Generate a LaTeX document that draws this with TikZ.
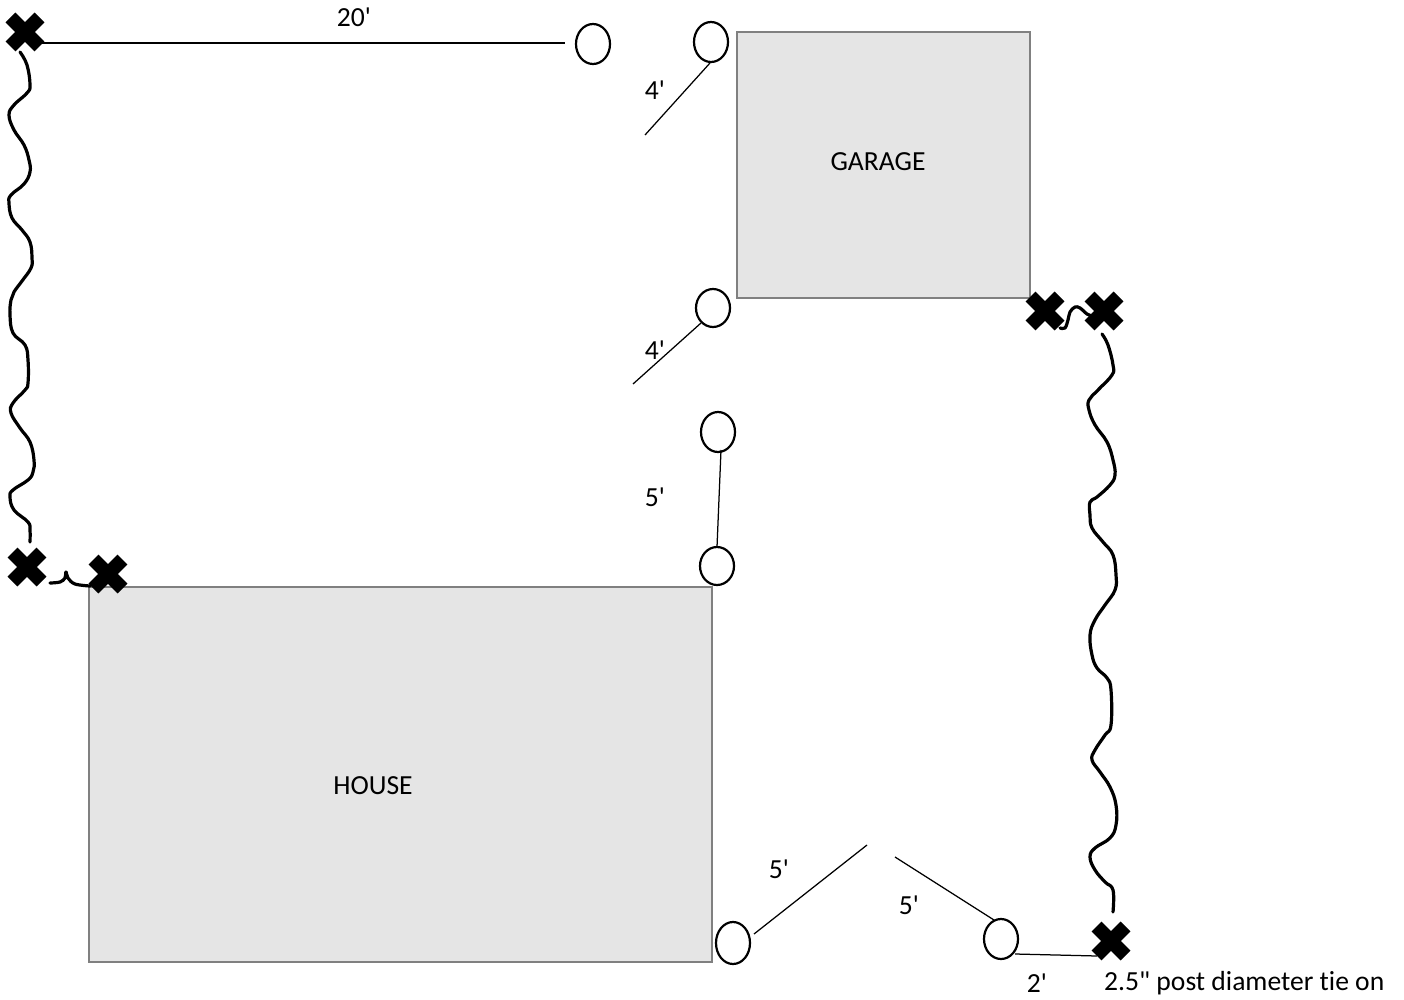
\documentclass[tikz,border=0pt]{standalone}
\usepackage{fontspec}
\newfontfamily\labfont[Ligatures=NoCommon]{Carlito}
\usetikzlibrary{shapes.misc,shapes.geometric}
\definecolor{bldgfill}{HTML}{E5E5E5}
\tikzset{
  x=1pt,y=-1pt,
  bldg/.style={draw=black!50,fill=bldgfill,line width=2.4pt},
  postc/.style={draw=black,line width=2.2pt,ellipse,inner sep=0pt,outer sep=0pt,minimum width=34pt},
  tieon/.style={cross out,draw=black,line width=14pt,minimum size=29pt,inner sep=0pt,outer sep=0pt},
  wavy/.style={draw=black,line width=3.2pt,line cap=round,line join=round},
  thin line/.style={draw=black,line width=1.25pt},
  lab/.style={font=\labfont\fontsize{27.6}{32}\selectfont,inner sep=0pt}
}
\begin{document}
\begin{tikzpicture}
\useasboundingbox (0,0) rectangle (1404,1000);
% buildings
\node[bldg,minimum width=293pt,minimum height=266pt,inner sep=0pt] (garage) at (883.5,165) {};
\node[lab] (garagelabel) at (878,162) {GARAGE};
\node[bldg,minimum width=623pt,minimum height=375pt,inner sep=0pt] (house) at (400.5,774.5) {};
\node[lab] (houselabel) at (373,786) {HOUSE};
% posts
\node[postc,minimum height=40pt] (c1) at (593,44) {};
\node[postc,minimum height=40pt] (c2) at (711,42) {};
\node[postc,minimum height=38pt] (c3) at (713,308) {};
\node[postc,minimum height=40pt] (c4) at (718,432) {};
\node[postc,minimum height=38pt] (c5) at (717,566) {};
\node[postc,minimum height=42pt] (c6) at (733,943) {};
\node[postc,minimum height=40pt] (c7) at (1001,939) {};
% tie-ons
\node[tieon] (x1) at (25,32) {};
\node[tieon] (x2) at (27,567) {};
\node[tieon] (x3) at (108,574) {};
\node[tieon] (x4) at (1045,311) {};
\node[tieon] (x5) at (1104,311) {};
\node[tieon] (x6) at (1111,941) {};
% free ends
\coordinate (a1) at (40,43);
\coordinate (a2) at (565,43);
\coordinate (b1) at (710,63);
\coordinate (b2) at (645,135);
\coordinate (d1) at (701,323);
\coordinate (d2) at (633,384);
\coordinate (e1) at (721,450);
\coordinate (e2) at (717,547);
\coordinate (f1) at (754,934);
\coordinate (f2) at (867,845);
\coordinate (g1) at (895,857);
\coordinate (g2) at (994,920);
\coordinate (h1) at (1015,954);
\coordinate (h2) at (1097,956);
\draw[thin line] (a1) -- (a2);
\draw[thin line] (b1) -- (b2);
\draw[thin line] (d1) -- (d2);
\draw[thin line] (e1) -- (e2);
\draw[thin line] (f1) -- (f2);
\draw[thin line] (g1) -- (g2);
\draw[thin line] (h1) -- (h2);
% wavy connectors
\draw[wavy] plot[smooth,tension=0.7] coordinates {(20,52)(27,65)(30,85)(27,93)(14,105)(9,115)(14,130)(24,145)(29,160)(30,172)(24,184)(11,195)(9,203)(12,218)(22,230)(30,242)(32,258)(31,268)(22,281)(14,292)(11,300)(10,315)(13,333)(25,345)(28,360)(28,383)(25,390)(13,403)(11,413)(20,428)(30,442)(34,460)(33,472)(28,480)(13,490)(10,497)(14,510)(28,522)(30,530)(30,542)};
\draw[wavy] plot[smooth,tension=0.6] coordinates {(50,583)(60,582)(65,578)(66,572)(68,578)(75,584)(90,586)};
\draw[wavy] plot[smooth,tension=0.6] coordinates {(1060,328)(1065,328)(1068,320)(1070,312)(1075,307)(1080,308)(1087,314)(1092,316)};
\draw[wavy] plot[smooth,tension=0.7] coordinates {(1102,334)(1108,345)(1113,365)(1112,375)(1098,390)(1089,400)(1089,410)(1095,425)(1107,442)(1113,460)(1115,475)(1110,485)(1097,497)(1090,502)(1090,515)(1092,528)(1103,542)(1113,555)(1116,575)(1115,590)(1105,605)(1095,620)(1090,635)(1092,655)(1097,668)(1107,678)(1111,690)(1111,725)(1105,735)(1095,750)(1092,760)(1100,772)(1110,787)(1116,805)(1116,825)(1110,838)(1095,848)(1090,857)(1095,870)(1105,882)(1113,890)(1113,912)};
% labels
\node[lab] (l1) at (354,17) {20'};
\node[lab] (l2) at (655,90) {4'};
\node[lab] (l3) at (655,350) {4'};
\node[lab] (l4) at (655,497) {5'};
\node[lab] (l5) at (779,869) {5'};
\node[lab] (l6) at (909,905) {5'};
\node[lab] (l7) at (1037,983) {2'};
\node[lab,anchor=west] (l8) at (1104,983) {2.5" post diameter tie on};
\end{tikzpicture}
\end{document}
